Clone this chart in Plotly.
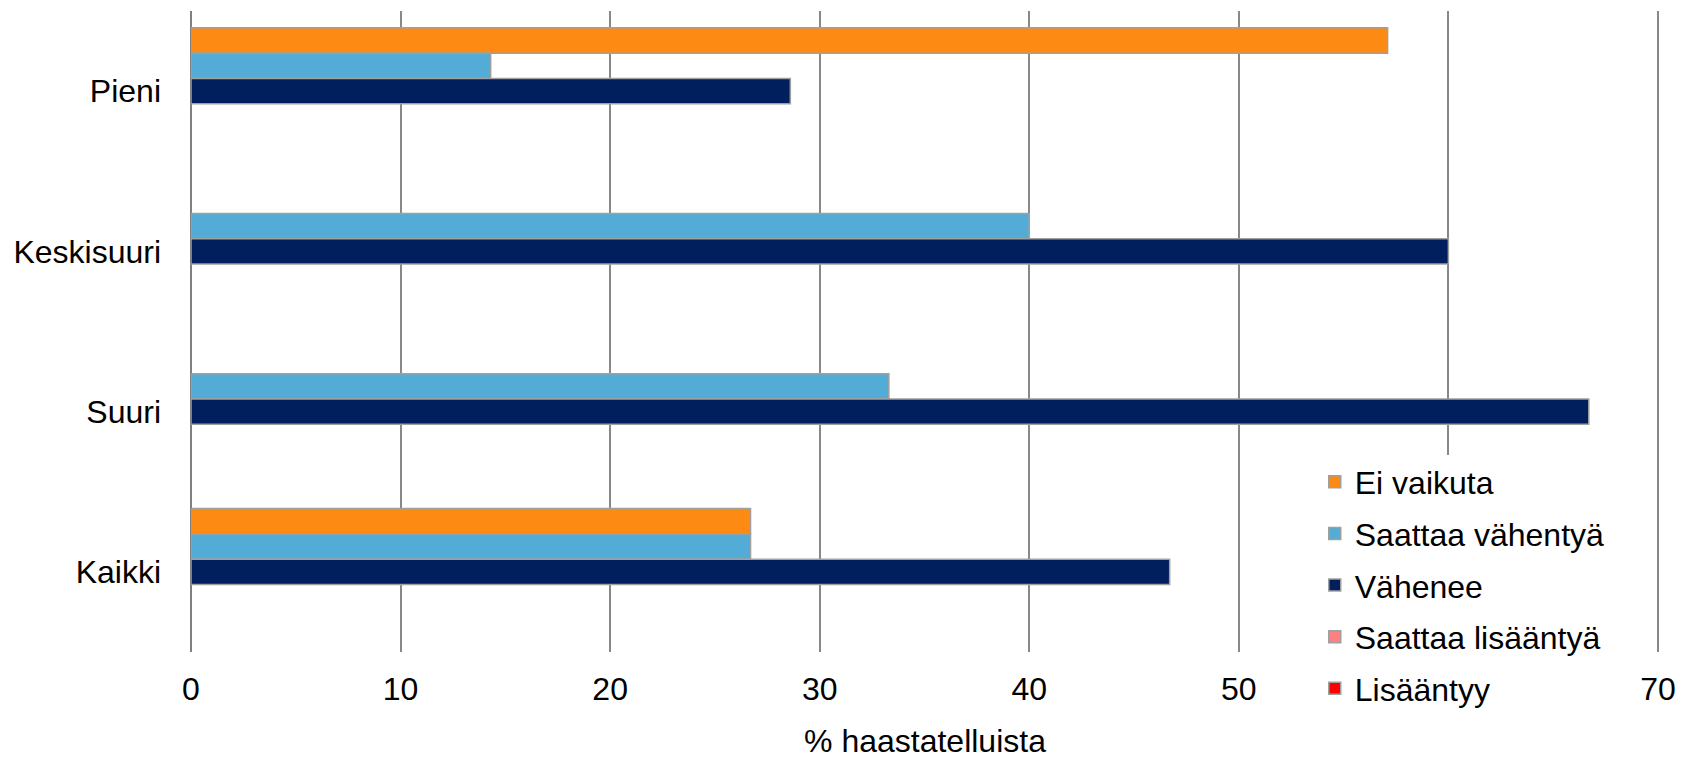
import plotly.graph_objects as go

categories = ["Pieni", "Keskisuuri", "Suuri", "Kaikki"]
series_names = ["Ei vaikuta", "Saattaa vähentyä", "Vähenee", "Saattaa lisääntyä", "Lisääntyy"]
ei_vaikuta = [57.1, 0, 0, 26.7]
saattaa_vahentya = [14.3, 40.0, 33.3, 26.7]
vahenee = [28.6, 60.0, 66.7, 46.7]
saattaa_lisaantya = [0, 0, 0, 0]
lisaantyy = [0, 0, 0, 0]
x_ticks = [0, 10, 20, 30, 40, 50, 60, 70]

values = [ei_vaikuta, saattaa_vahentya, vahenee, saattaa_lisaantya, lisaantyy]
colors = ["#FD8A13", "#52ACD6", "#001F5C", "#FF8080", "#FF0000"]

FONT = "Liberation Sans, Arial, sans-serif"
fig = go.Figure()
for name, vals, col in zip(series_names, values, colors):
    fig.add_trace(go.Bar(
        y=categories, x=[v if v else None for v in vals], name=name, orientation="h",
        legendgroup=name,
        marker=dict(color=col, line=dict(color="#A0A0A0", width=1.5)),
    ))

fig.update_layout(
    width=1684, height=759,
    margin=dict(l=191, r=25, t=11, b=107),
    paper_bgcolor="white", plot_bgcolor="white",
    barmode="group", bargap=0.21, bargroupgap=0,
    font=dict(family=FONT, size=32, color="black"),
    legend=dict(
        x=0.7655, xanchor="left", y=0.308, yanchor="top",
        bgcolor="white", font=dict(size=32, family=FONT),
        traceorder="grouped", tracegroupgap=7,
    ),
    xaxis=dict(
        range=[0, 70.05], tickvals=x_ticks, ticktext=[str(t) for t in x_ticks],
        showgrid=True, gridcolor="#888888", gridwidth=1.5,
        zeroline=True, zerolinecolor="#808080", zerolinewidth=2,
        showline=False, ticks="", ticklabelstandoff=15, automargin=False,
        title=dict(text="% haastatelluista", standoff=40, font=dict(size=32)),
    ),
    yaxis=dict(
        autorange="reversed", showgrid=False, showline=False, ticks="",
        ticklabelstandoff=29, automargin=False,
    ),
)

fig.write_html(
    "out.html",
    config={"displayModeBar": False},
    post_script="document.body.style.margin='0px';document.body.style.overflow='hidden';",
)
